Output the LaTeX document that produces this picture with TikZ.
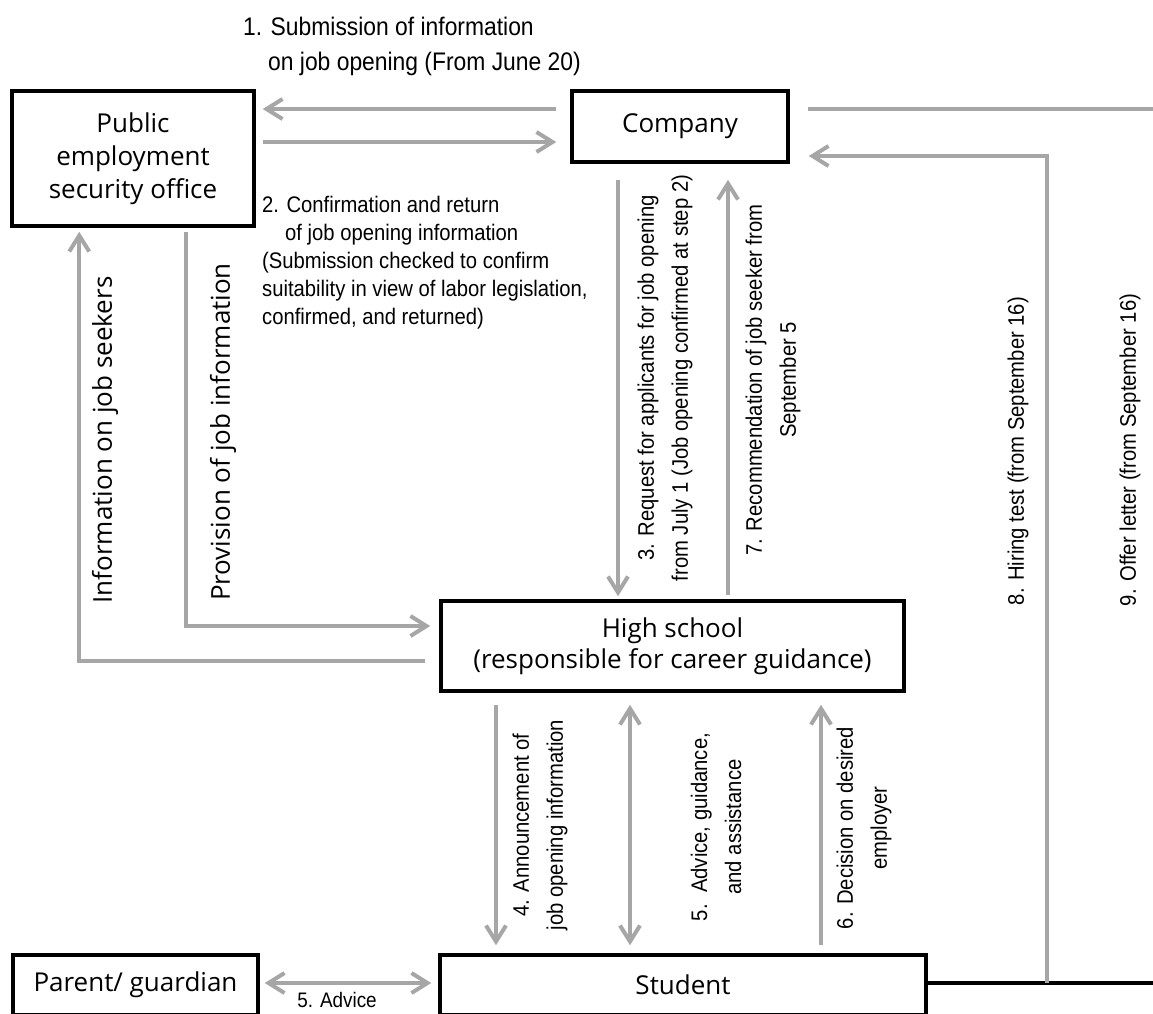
\documentclass[tikz,border=0pt]{standalone}
\usepackage{fontspec}
\setmainfont{Open Sans}
\newfontfamily\labfont[FakeStretch=0.9]{Liberation Sans}
\usetikzlibrary{arrows.meta,calc}
\definecolor{lg}{RGB}{166,166,166}
\begin{document}
\begin{tikzpicture}[x=1pt,y=-1pt,
  box/.style={draw, line width=3.5pt, inner sep=0pt, align=center, font=\fontsize{26}{33}\selectfont},
  gl/.style={draw=lg, line width=4pt},
  arr/.style={gl, -{Straight Barb[length=16pt,width=20pt]}},
  arr2/.style={gl, {Straight Barb[length=16pt,width=20pt]}-{Straight Barb[length=16pt,width=20pt]}},
  lab/.style={inner sep=0pt, font=\labfont\fontsize{22.5}{28}\selectfont},
  vlab/.style={inner sep=0pt, rotate=90, align=center, font=\labfont\fontsize{22.5}{34}\selectfont},
  side/.style={inner sep=0pt, rotate=90, font=\fontsize{26}{33}\selectfont}
]
\useasboundingbox (0,0) rectangle (1153,1013);
\clip (0,0) rectangle (1153,1013);

% boxes
\node[box, minimum width=242pt, minimum height=135pt] (peso) at (133,158.5) {Public\\employment\\security office};
\node[box, minimum width=216pt, minimum height=71pt] (comp) at (680,126.5) {Company};
\node[box, minimum width=463pt, minimum height=90pt, font=\fontsize{26}{31}\selectfont] (hs) at (672.5,646) {High school\\(responsible for career guidance)};
\node[box, minimum width=486pt, minimum height=60pt] (stud) at (683,985) {Student};
\node[box, minimum width=245pt, minimum height=60pt] (par) at (135.5,985) {Parent/ guardian};

% free ends at the picture's right edge
\coordinate (e9) at (1160,109);
\coordinate (eS) at (1160,983);

% connectors
\draw[arr] ($(comp.west)+(-14,-17.5)$) -- ($(peso.east)+(7,-49.5)$);
\draw[arr] ($(peso.east)+(7,-16.5)$) -- ($(comp.west)+(-14,15.5)$);
\draw[gl] ($(comp.east)+(18,-17.5)$) -- (e9);
\draw[line width=3.5pt] ($(stud.east)+(0,-2)$) -- (eS);
\draw[arr] ($(stud.east)+(119,-2)$) |- ($(comp.east)+(19,29.5)$);
\draw[arr] ($(comp.south)+(-62,16)$) -- ($(hs.north)+(-54.5,-3)$);
\draw[arr] ($(hs.north)+(55.5,-4)$) -- ($(comp.south)+(48,16)$);
\draw[arr] ($(hs.west)+(-14,15)$) -| ($(peso.south west)+(69,4)$);
\draw[arr] ($(peso.south west)+(176,4)$) |- ($(hs.west)+(-9,-20)$);
\draw[arr] ($(hs.south)+(-176.5,12)$) -- ($(stud.north)+(-187,-8)$);
\draw[arr2] ($(hs.south)+(-42.5,12)$) -- ($(stud.north)+(-53,-8)$);
\draw[arr] ($(stud.north)+(138,-8)$) -- ($(hs.south)+(148.5,12)$);
\draw[arr2] ($(par.east)+(5,-2)$) -- ($(stud.west)+(-7,-2)$);

% labels
\node[lab, anchor=west, align=left, font=\labfont\fontsize{25.4}{35}\selectfont] (l1) at (243,46)
  {1. Submission of information\\\hspace*{25pt}on job opening (From June 20)};
\node[lab, anchor=west, align=left] (l2) at (262,263)
  {2. Confirmation and return\\\hspace*{23pt}of job opening information\\(Submission checked to confirm\\suitability in view of labor legislation,\\confirmed, and returned)};
\node[side] (lseek) at (105,440) {Information on job seekers};
\node[side] (lprov) at (223,432) {Provision of job information};
\node[vlab] (l3) at (665,378) {3. Request for applicants for job opening\\from July 1 (Job opening confirmed at step 2)};
\node[vlab] (l7) at (773,380) {7. Recommendation of job seeker from\\September 5};
\node[vlab] (l8) at (1018,451) {8. Hiring test (from September 16)};
\node[vlab] (l9) at (1130,450) {9. Offer letter (from September 16)};
\node[vlab] (l4) at (540,825) {4. Announcement of\\job opening information};
\node[vlab] (l5) at (716,827) {5.\ \ Advice, guidance,\\and assistance};
\node[vlab] (l6) at (864,828) {6. Decision on desired\\employer};
\node[lab, anchor=base, font=\labfont\fontsize{21}{28}\selectfont] (l5a) at (337,1007) {5. Advice};
\end{tikzpicture}
\end{document}
